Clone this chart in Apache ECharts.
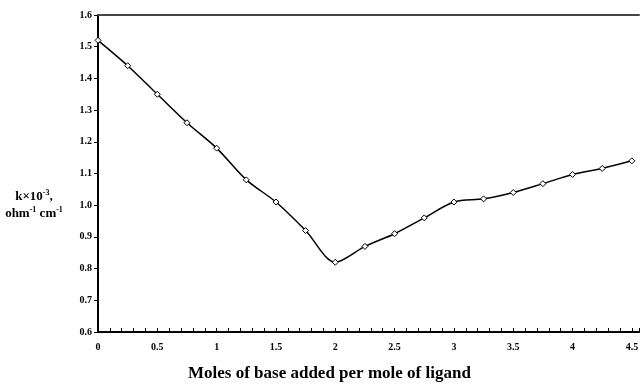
<!DOCTYPE html>
<html>
<head>
<meta charset="utf-8">
<script src="https://cdn.jsdelivr.net/npm/echarts@6/dist/echarts.min.js"></script>
<style>html,body{margin:0;padding:0;background:#fff;}#c{width:642px;height:384px;}</style>
</head>
<body>
<div id="c"></div>
<script>
var molesBase = [0, 0.25, 0.5, 0.75, 1, 1.25, 1.5, 1.75, 2, 2.25, 2.5, 2.75, 3, 3.25, 3.5, 3.75, 4, 4.25, 4.5];
var conductance = [1.52, 1.44, 1.35, 1.26, 1.18, 1.08, 1.01, 0.92, 0.82, 0.87, 0.91, 0.96, 1.01, 1.02, 1.04, 1.068, 1.097, 1.116, 1.14];
var xTitle = 'Moles of base added per mole of ligand';

var pts = molesBase.map(function (x, i) { return [x, conductance[i]]; });
var serif = '"Liberation Serif", "DejaVu Serif", serif';
var chart = echarts.init(document.getElementById('c'));
chart.setOption({
  animation: false,
  backgroundColor: '#fff',
  title: {
    text: xTitle,
    left: 183, top: 360,
    textStyle: { fontFamily: serif, fontWeight: 'bold', fontSize: 17, color: '#000' }
  },
  grid: { left: 98, top: 15, right: 2, bottom: 52 },
  xAxis: [{
    type: 'value', min: 0, max: 4.56, interval: 0.1,
    axisLine: { lineStyle: { color: '#000', width: 2 } },
    axisTick: { inside: true, length: 4, lineStyle: { color: '#000', width: 1 } },
    splitLine: { show: false },
    axisLabel: {
      margin: 10, color: '#000', fontFamily: serif, fontWeight: 'bold', fontSize: 10,
      formatter: function (v) {
        if (Math.abs(v * 2 - Math.round(v * 2)) < 1e-6 && v <= 4.5 + 1e-6) {
          return String(Math.round(v * 2) / 2);
        }
        return '';
      }
    }
  }, {
    type: 'value', position: 'top', min: 0, max: 4.56,
    axisLine: { show: true, lineStyle: { color: '#444', width: 2 } },
    axisTick: { show: false }, axisLabel: { show: false }, splitLine: { show: false }
  }],
  yAxis: {
    type: 'value', min: 0.6, max: 1.6, interval: 0.1,
    axisLine: { show: true, lineStyle: { color: '#000', width: 2 } },
    axisTick: { show: true, length: 4, lineStyle: { color: '#000', width: 1 } },
    splitLine: { show: false },
    axisLabel: {
      margin: 6, color: '#000', fontFamily: serif, fontWeight: 'bold', fontSize: 10,
      formatter: function (v) { return v.toFixed(1); }
    },
    name: '{b|k×10}{s|-3}{b|,}\n{b|ohm}{s|-1}{b| cm}{s|-1}',
    nameLocation: 'middle', nameRotate: 0, nameGap: 64,
    nameTextStyle: {
      align: 'center', verticalAlign: 'middle', padding: [64, 0, 0, 0],
      rich: {
        b: { fontFamily: serif, fontWeight: 'bold', fontSize: 13, color: '#000', lineHeight: 17 },
        s: { fontFamily: serif, fontWeight: 'bold', fontSize: 8, color: '#000', lineHeight: 17, verticalAlign: 'top', padding: [0, 0, 8, 0] }
      }
    }
  },
  series: [{
    type: 'line', data: pts, smooth: 0.3,
    symbol: 'diamond', symbolSize: 6,
    lineStyle: { color: '#000', width: 1.5 },
    itemStyle: { color: '#fff', borderColor: '#000', borderWidth: 1 }
  }]
});
</script>
</body>
</html>
